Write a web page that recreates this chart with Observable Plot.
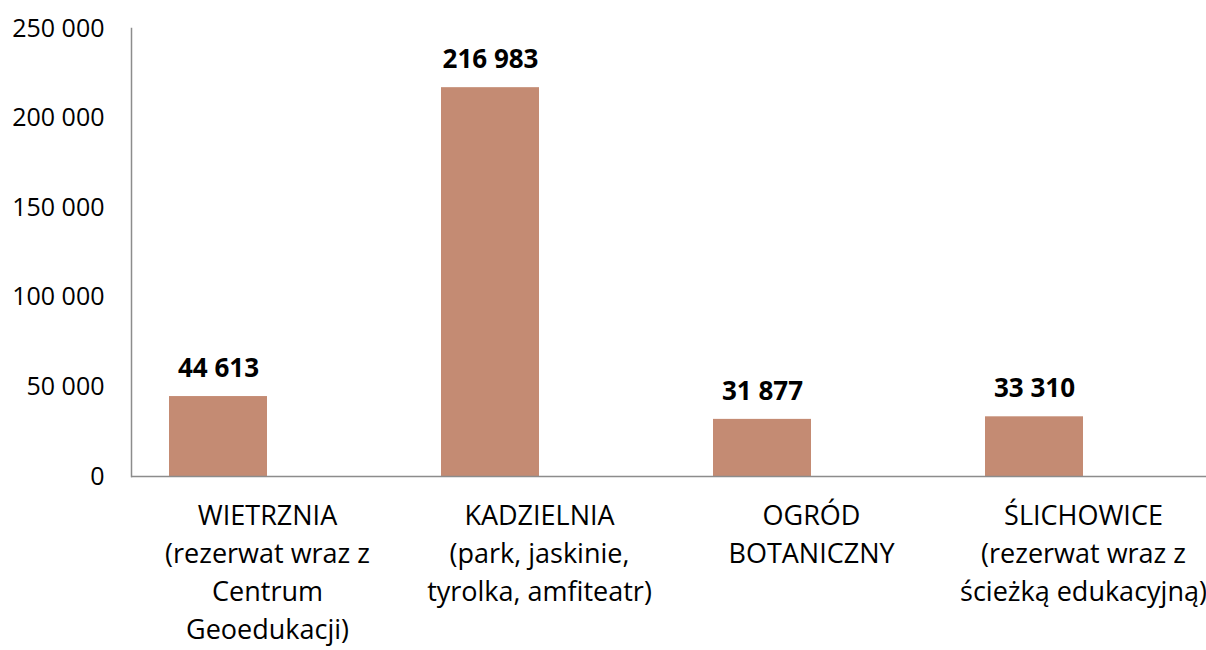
<!DOCTYPE html>
<html>
<head>
<meta charset="utf-8">
<script src="https://cdn.jsdelivr.net/npm/d3@7"></script>
<script src="https://cdn.jsdelivr.net/npm/@observablehq/plot@0.6"></script>
<style>
  html, body { margin: 0; padding: 0; background: #fff; }
  #chart svg { display: block; overflow: hidden; }
</style>
</head>
<body>
<div id="chart"></div>
<script>
const categories = [
  "WIETRZNIA\n(rezerwat wraz z\nCentrum\nGeoedukacji)",
  "KADZIELNIA\n(park, jaskinie,\ntyrolka, amfiteatr)",
  "OGRÓD\nBOTANICZNY",
  "ŚLICHOWICE\n(rezerwat wraz z\nścieżką edukacyjną)"
];
const visitors = [44613, 216983, 31877, 33310];
const yTicks = [0, 50000, 100000, 150000, 200000, 250000];

const data = categories.map((c, i) => ({category: c, value: visitors[i]}));
const locale = d3.formatLocale({decimal: ",", thousands: " ", grouping: [3], currency: ["", ""]});
const fmt = locale.format(",d");

const font = "'Open Sans', 'Noto Sans', sans-serif";

const chart = Plot.plot({
  width: 1206,
  height: 650,
  marginLeft: 131,
  marginRight: 0,
  marginTop: 28,
  marginBottom: 174,
  style: {fontFamily: font, color: "#000", background: "#fff"},
  x: {domain: categories, range: [131, 1219], padding: 0},
  y: {domain: [0, 250000]},
  marks: [
    Plot.barY(data, {x: "category", y: "value", fill: "#C48B73", insetLeft: 38, insetRight: 136}),
    Plot.ruleY([0], {stroke: "#8c8c8c", strokeWidth: 1.5}),
    Plot.frame({anchor: "left", stroke: "#8c8c8c", strokeWidth: 1.5}),
    Plot.axisY({ticks: yTicks, tickFormat: fmt, tickSize: 0, tickPadding: 27, fontSize: 25, label: null}),
    Plot.axisX({tickSize: 0, tickPadding: 22, fontSize: 27, lineHeight: 1.4, label: null}),
    Plot.text(data, {x: "category", y: "value", text: d => fmt(d.value), dx: -49, dy: -28,
      fontSize: 26, fontWeight: "bold", fill: "#000"})
  ]
});
document.getElementById("chart").append(chart);
</script>
</body>
</html>
